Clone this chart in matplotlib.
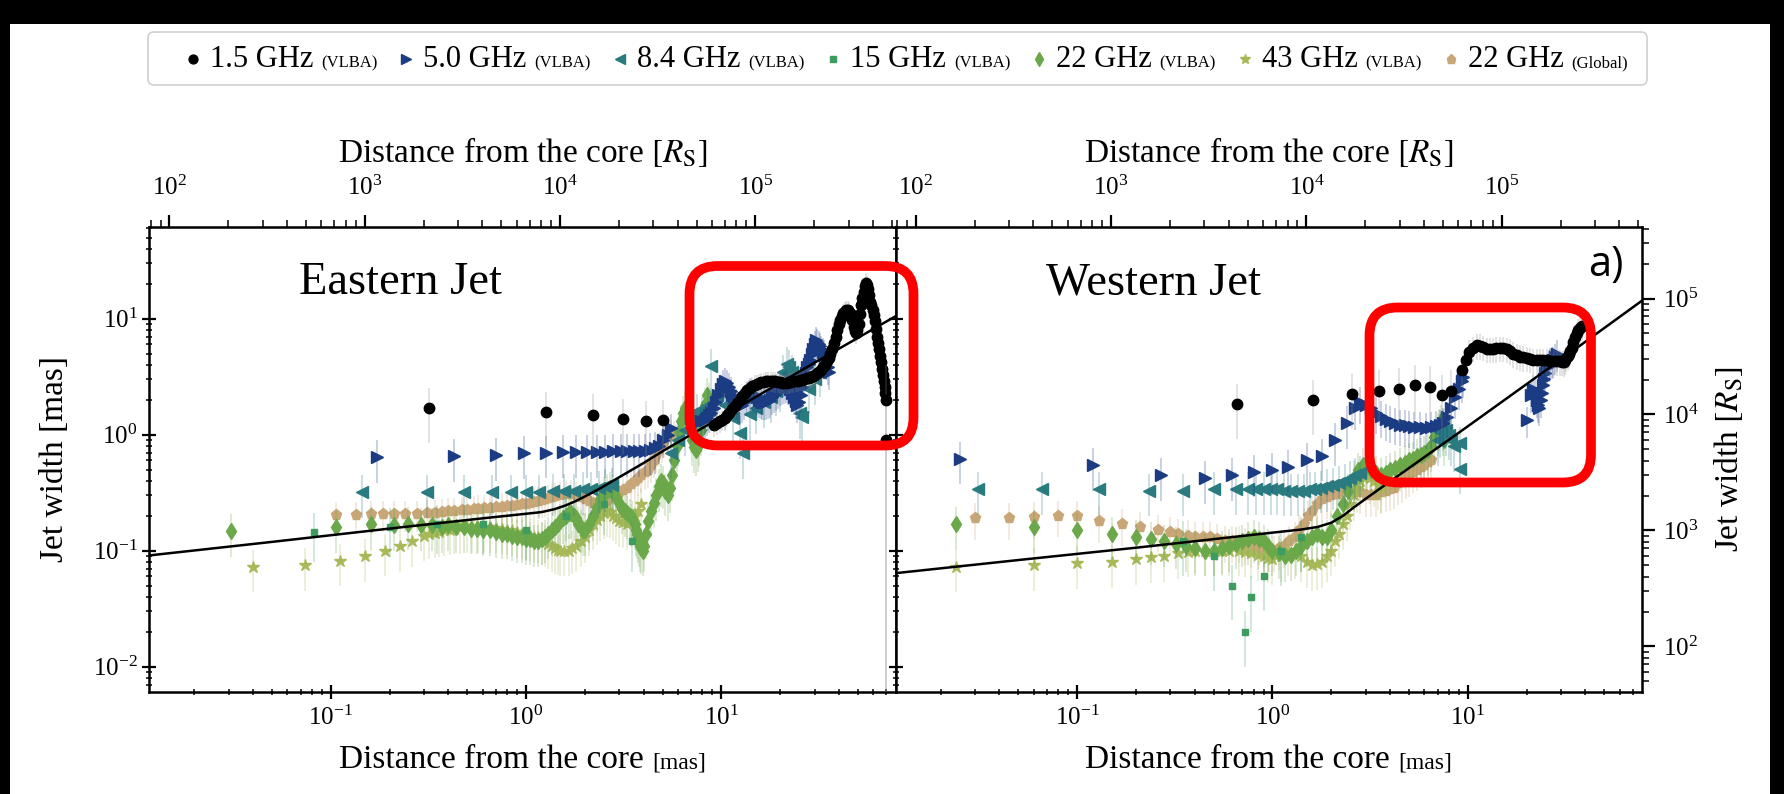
import numpy as np
import matplotlib
matplotlib.use("Agg")
import matplotlib.pyplot as plt
from matplotlib.patches import FancyBboxPatch, Rectangle
from matplotlib.lines import Line2D
from matplotlib.ticker import LogLocator, NullFormatter, FixedLocator
from matplotlib.transforms import IdentityTransform

# ---------------- data ----------------
# each series: list of (distance [mas], width [mas]); relative error per series group
RS_PER_MAS = 6700.0

# ---- Eastern jet ----
E_1p5_sparse = [(0.32, 1.69), (1.26, 1.56), (2.19, 1.48), (3.13, 1.36), (4.1, 1.31), (5.0, 1.33)]
E_1p5_dense = [(9.2, 1.2), (9.5, 1.25), (9.8, 1.3), (10.1, 1.35), (10.4, 1.4), (10.7, 1.47), (11.0, 1.55), (11.35, 1.65),
               (11.7, 1.75), (12.0, 1.87), (12.4, 2.0), (12.8, 2.15), (13.2, 2.3), (13.6, 2.42), (14.0, 2.55), (14.4, 2.63),
               (14.8, 2.7), (15.2, 2.75), (15.6, 2.8), (16.0, 2.83), (16.5, 2.85), (17.0, 2.88), (17.4, 2.9), (17.9, 2.9),
               (18.4, 2.9), (18.9, 2.88), (19.4, 2.85), (19.9, 2.83), (20.5, 2.8), (21.0, 2.8), (21.6, 2.8), (22.2, 2.82),
               (22.8, 2.85), (23.4, 2.88), (24.0, 2.9), (24.6, 2.92), (25.3, 2.95), (25.9, 2.97), (26.6, 3.0), (27.3, 3.05),
               (28.0, 3.1), (28.7, 3.15), (29.5, 3.2), (30.2, 3.3), (31.0, 3.4), (31.7, 3.5), (32.5, 3.6), (33.2, 3.8),
               (34.0, 4.0), (34.7, 4.3), (35.5, 4.6), (36.2, 5.0), (37.0, 5.5), (37.7, 6.2), (38.5, 7.0), (39.2, 8.0),
               (40.0, 9.0), (40.7, 9.8), (41.5, 10.5), (42.2, 11.1), (43.0, 11.5), (43.7, 11.8), (44.5, 11.8), (45.2, 11.5),
               (46.0, 11.0), (46.7, 9.8), (47.5, 8.5), (48.2, 7.8), (49.0, 7.5), (49.7, 8.0), (50.5, 9.0), (51.2, 11.0),
               (52.0, 13.0), (52.7, 15.0), (53.5, 17.0), (54.2, 19.0), (55.0, 20.5), (55.7, 19.5), (56.5, 18.0), (57.2, 16.0),
               (58.0, 14.0), (58.7, 13.0), (59.5, 12.0), (60.2, 10.7), (61.0, 9.5), (61.7, 8.2), (62.5, 7.0), (63.2, 6.2),
               (64.0, 5.5), (64.7, 4.8), (65.5, 4.2), (66.2, 3.7), (67.0, 3.3), (67.7, 2.9), (68.5, 2.6), (69.0, 2.3)]
E_1p5_tail = [(69.5, 2.0), (70.0, 0.9)]

E_5_sparse = [(0.173, 0.64), (0.43, 0.65), (0.70, 0.67), (0.98, 0.69), (1.26, 0.70), (1.54, 0.71), (1.80, 0.71),
              (2.05, 0.71), (2.30, 0.71), (2.55, 0.71), (2.80, 0.72), (3.05, 0.72), (3.30, 0.72), (3.55, 0.72),
              (3.80, 0.72), (4.05, 0.73), (4.30, 0.74), (4.55, 0.76)]
E_5_dense = [(4.8, 0.80), (5.05, 0.9), (5.3, 1.0), (5.55, 1.15), (7.9, 1.30), (8.2, 1.35), (8.4, 1.40), (8.65, 1.47),
             (8.9, 1.55), (9.15, 1.7), (9.4, 1.9), (9.65, 2.2), (9.9, 2.5), (10.15, 2.75), (10.4, 2.9), (10.65, 2.8),
             (10.9, 2.6), (11.15, 2.4), (11.4, 2.2), (11.65, 2.05), (11.9, 1.9), (12.15, 1.8), (12.4, 1.75), (12.7, 1.8),
             (13.0, 1.9), (13.3, 2.05), (13.6, 2.2), (13.9, 2.28), (14.2, 2.3), (14.5, 2.25), (14.8, 2.2), (15.2, 2.1),
             (15.5, 2.0), (15.9, 1.95), (16.2, 1.9), (16.6, 1.9), (17.0, 1.9), (17.4, 1.95), (17.8, 2.0), (18.2, 2.1),
             (18.6, 2.2), (19.0, 2.3), (19.5, 2.4), (20.0, 2.5), (20.5, 2.6), (21.0, 2.65), (21.5, 2.7), (22.0, 2.6),
             (22.5, 2.5), (23.0, 2.3), (23.5, 2.1), (24.0, 1.95), (24.5, 1.8), (25.0, 1.9), (25.5, 2.2), (26.0, 2.6),
             (26.5, 3.0), (27.0, 3.4), (27.5, 3.8), (28.0, 4.1), (28.5, 4.4), (29.0, 5.0), (29.5, 5.5), (30.0, 6.0),
             (30.5, 6.5), (31.0, 6.3), (31.5, 6.0), (32.0, 5.8), (32.5, 5.5), (33.0, 5.2), (33.5, 5.0), (34.0, 4.6),
             (34.5, 4.2), (35.0, 3.8), (35.5, 3.5)]

E_8p4_sparse = [(0.144, 0.32), (0.31, 0.32), (0.48, 0.32), (0.67, 0.32), (0.84, 0.32), (1.0, 0.32), (1.17, 0.32),
                (1.37, 0.33), (1.57, 0.33), (1.76, 0.33), (1.95, 0.34), (2.15, 0.34), (2.35, 0.35), (2.55, 0.36),
                (2.75, 0.37)]
E_8p4_dense = [(5.5, 0.7), (6.0, 0.9), (6.5, 1.1), (7.0, 1.4), (7.5, 1.6), (8.0, 1.5), (8.5, 1.8), (8.9, 3.9), (9.5, 2.2),
               (10.5, 1.8), (11.5, 1.4), (12.4, 1.03), (12.95, 0.69), (14.0, 1.5), (15.0, 1.7), (16.5, 1.9), (18.0, 2.1),
               (19.0, 2.4), (20.0, 2.6), (20.8, 3.5), (21.6, 4.1), (22.3, 3.8), (23.0, 3.5), (24.0, 2.5), (25.2, 1.53),
               (26.0, 1.43), (28.0, 2.5), (30.0, 3.0), (32.0, 3.5)]

E_15 = [(0.082, 0.146), (0.2, 0.16), (0.35, 0.17), (0.6, 0.17), (1.0, 0.15), (1.6, 0.2), (2.5, 0.25), (3.5, 0.12)]

E_22 = [(0.031, 0.148), (0.106, 0.16), (0.16, 0.17), (0.21, 0.165), (0.25, 0.17), (0.29, 0.165), (0.33, 0.165),
        (0.37, 0.16), (0.40, 0.165), (0.44, 0.16), (0.48, 0.16), (0.52, 0.155), (0.56, 0.155), (0.60, 0.15), (0.65, 0.15),
        (0.70, 0.145), (0.75, 0.14), (0.80, 0.14), (0.85, 0.135), (0.90, 0.13), (0.95, 0.13), (1.0, 0.125), (1.05, 0.125),
        (1.1, 0.12), (1.15, 0.12), (1.2, 0.125), (1.25, 0.13), (1.3, 0.14), (1.35, 0.15), (1.4, 0.16), (1.45, 0.17),
        (1.5, 0.18), (1.55, 0.19), (1.6, 0.2), (1.65, 0.21), (1.7, 0.21), (1.75, 0.2), (1.8, 0.19), (1.85, 0.17),
        (1.9, 0.16), (1.95, 0.15), (2.0, 0.15), (2.1, 0.17), (2.2, 0.2), (2.3, 0.24), (2.4, 0.28), (2.5, 0.31),
        (2.6, 0.33), (2.7, 0.34), (2.8, 0.32), (2.9, 0.29), (3.0, 0.26), (3.1, 0.23), (3.2, 0.22), (3.3, 0.21),
        (3.4, 0.2), (3.5, 0.19), (3.6, 0.17), (3.65, 0.15), (3.7, 0.14), (3.75, 0.13), (3.8, 0.12), (3.85, 0.11),
        (3.9, 0.105), (3.95, 0.10), (4.0, 0.11), (4.1, 0.14), (4.2, 0.18), (4.35, 0.22), (4.5, 0.26), (4.65, 0.3),
        (4.8, 0.36), (4.9, 0.4), (5.0, 0.38), (5.15, 0.33), (5.3, 0.3), (5.45, 0.35), (5.6, 0.45), (5.75, 0.6),
        (5.9, 0.8), (6.05, 1.05), (6.2, 1.3), (6.35, 1.55), (6.5, 1.7), (6.65, 1.6), (6.8, 1.4), (6.95, 1.15),
        (7.1, 0.9), (7.25, 0.78), (7.4, 0.74), (7.55, 0.8), (7.7, 0.9), (7.85, 1.1), (8.0, 1.4), (8.2, 1.8),
        (8.4, 2.2), (8.6, 2.0), (8.8, 1.8)]

E_43 = [(0.040, 0.073), (0.074, 0.075), (0.111, 0.082), (0.149, 0.09), (0.189, 0.10), (0.226, 0.11), (0.26, 0.12),
        (0.30, 0.135), (0.32, 0.14), (0.34, 0.143), (0.36, 0.146), (0.38, 0.15), (0.41, 0.152), (0.43, 0.155),
        (0.46, 0.157), (0.5, 0.16), (0.53, 0.16), (0.57, 0.16), (0.61, 0.16), (0.65, 0.16), (0.7, 0.158), (0.75, 0.155),
        (0.8, 0.152), (0.85, 0.15), (0.9, 0.145), (0.95, 0.14), (1.0, 0.137), (1.05, 0.135), (1.1, 0.132), (1.15, 0.13),
        (1.2, 0.125), (1.25, 0.12), (1.3, 0.115), (1.35, 0.11), (1.4, 0.105), (1.45, 0.102), (1.5, 0.1), (1.57, 0.1),
        (1.65, 0.1), (1.72, 0.105), (1.8, 0.11), (1.9, 0.12), (2.0, 0.13), (2.1, 0.15), (2.2, 0.17), (2.3, 0.185),
        (2.4, 0.2), (2.5, 0.21), (2.6, 0.22), (2.7, 0.215), (2.8, 0.2), (2.9, 0.19), (3.0, 0.18), (3.15, 0.175),
        (3.3, 0.17), (3.45, 0.18), (3.6, 0.2), (3.75, 0.22), (3.9, 0.25)]

E_G22 = [(0.106, 0.203), (0.135, 0.204), (0.16, 0.205), (0.185, 0.205), (0.21, 0.205), (0.24, 0.206), (0.277, 0.207),
         (0.31, 0.21), (0.34, 0.212), (0.37, 0.215), (0.40, 0.218), (0.43, 0.22), (0.47, 0.222), (0.5, 0.225),
         (0.54, 0.228), (0.57, 0.23), (0.61, 0.233), (0.65, 0.235), (0.7, 0.238), (0.75, 0.24), (0.8, 0.243),
         (0.85, 0.245), (0.9, 0.248), (0.95, 0.25), (1.0, 0.255), (1.05, 0.26), (1.1, 0.265), (1.15, 0.27), (1.2, 0.275),
         (1.25, 0.28), (1.3, 0.285), (1.35, 0.29), (1.4, 0.295), (1.5, 0.3), (1.6, 0.305), (1.7, 0.31), (1.8, 0.3),
         (1.9, 0.29), (2.0, 0.28), (2.1, 0.27), (2.2, 0.26), (2.3, 0.255), (2.4, 0.25), (2.5, 0.26), (2.6, 0.27),
         (2.7, 0.285), (2.8, 0.3), (2.9, 0.31), (3.0, 0.32), (3.15, 0.335), (3.3, 0.35), (3.45, 0.375), (3.6, 0.4),
         (3.75, 0.425), (3.9, 0.45), (4.05, 0.475), (4.2, 0.5), (4.35, 0.55), (4.5, 0.6), (4.65, 0.67), (4.8, 0.75),
         (4.95, 0.82), (5.1, 0.9), (5.25, 0.95), (5.4, 1.0), (5.55, 1.02), (5.7, 1.0), (5.85, 0.95), (6.0, 0.9)]

# ---- Western jet ----
W_1p5_sparse = [(0.66, 1.84), (1.61, 1.99), (2.55, 2.24), (3.5, 2.39), (4.45, 2.5), (5.4, 2.68), (6.4, 2.6), (7.4, 2.2),
                (8.2, 2.4)]
W_1p5_dense = [(9.3, 3.6), (9.8, 4.4), (10.2, 5.2), (10.6, 5.6), (11.1, 5.9), (11.5, 5.85), (12.0, 5.7), (12.5, 5.5),
               (13.0, 5.5), (13.5, 5.5), (14.0, 5.55), (14.6, 5.6), (15.2, 5.6), (15.8, 5.5), (16.4, 5.3), (17.1, 5.0),
               (17.8, 4.85), (18.5, 4.7), (19.2, 4.65), (20.0, 4.6), (20.8, 4.5), (21.7, 4.4), (22.6, 4.4), (23.5, 4.4),
               (24.4, 4.4), (25.4, 4.4), (26.4, 4.35), (27.5, 4.3), (28.6, 4.3), (29.7, 4.3), (30.5, 4.25), (31.0, 4.2),
               (31.5, 4.4), (32.0, 4.6), (32.5, 4.8), (33.0, 5.0), (33.5, 5.3), (34.0, 5.6), (34.7, 6.3), (35.4, 7.0),
               (36.2, 7.5), (36.9, 8.0), (37.6, 8.3), (38.4, 8.6)]

W_5_sparse = [(0.025, 0.62), (0.12, 0.55), (0.27, 0.45), (0.45, 0.42), (0.62, 0.45), (0.8, 0.48), (1.0, 0.5), (1.2, 0.53),
              (1.5, 0.6), (1.79, 0.66), (2.09, 0.9), (2.4, 1.25)]
W_5_dense = [(2.65, 1.69), (2.8, 1.9), (3.0, 1.8), (3.2, 1.7), (3.4, 1.55), (3.6, 1.45), (3.8, 1.37), (4.0, 1.3),
             (4.25, 1.25), (4.5, 1.22), (4.75, 1.2), (5.0, 1.18), (5.3, 1.16), (5.7, 1.16), (6.1, 1.15), (6.5, 1.16),
             (6.9, 1.18), (7.2, 1.2), (7.5, 1.25), (7.8, 1.43), (8.2, 1.7), (8.6, 2.1), (9.0, 2.5), (9.3, 2.9),
             (9.5, 3.16)]
W_5_far = [(20.0, 1.34), (21.0, 2.2), (21.7, 2.5), (22.1, 2.3), (22.5, 2.0), (22.9, 1.8), (23.2, 1.7), (23.6, 2.0),
           (24.0, 2.3), (24.4, 2.7), (24.7, 3.0), (25.0, 3.4), (25.4, 3.8), (26.0, 4.1), (26.5, 4.3), (27.0, 4.35),
           (27.4, 4.4), (28.0, 4.7), (28.5, 5.0)]

W_8p4 = [(0.031, 0.34), (0.066, 0.34), (0.13, 0.34), (0.233, 0.33), (0.35, 0.33), (0.5, 0.34), (0.65, 0.34), (0.75, 0.34),
         (0.82, 0.34), (0.9, 0.34), (0.98, 0.34), (1.06, 0.34), (1.15, 0.33), (1.25, 0.33), (1.35, 0.33), (1.45, 0.33),
         (1.55, 0.34), (1.65, 0.34), (1.78, 0.35), (1.9, 0.36), (2.05, 0.37), (2.2, 0.385), (2.35, 0.4), (2.5, 0.42),
         (2.65, 0.45), (2.8, 0.47), (7.0, 0.9), (7.25, 1.05), (7.5, 1.2), (7.75, 1.1), (8.0, 1.0), (8.25, 0.9),
         (8.5, 0.8), (9.1, 0.84), (9.1, 0.51)]

W_15 = [(0.35, 0.12), (0.5, 0.09), (0.62, 0.05), (0.72, 0.02), (0.78, 0.04), (0.9, 0.06), (1.1, 0.1), (1.4, 0.13)]

W_22 = [(0.024, 0.17), (0.06, 0.16), (0.1, 0.15), (0.15, 0.14), (0.2, 0.13), (0.24, 0.125), (0.28, 0.12), (0.32, 0.115),
        (0.36, 0.11), (0.4, 0.105), (0.45, 0.1), (0.5, 0.1), (0.55, 0.105), (0.6, 0.11), (0.65, 0.115), (0.7, 0.12),
        (0.75, 0.125), (0.8, 0.13), (0.85, 0.125), (0.9, 0.12), (0.95, 0.11), (1.0, 0.1), (1.08, 0.095), (1.16, 0.09),
        (1.24, 0.092), (1.32, 0.1), (1.4, 0.11), (1.5, 0.12), (1.6, 0.13), (1.7, 0.14), (1.8, 0.13), (1.9, 0.13),
        (2.0, 0.15), (2.15, 0.2), (2.3, 0.25), (2.45, 0.33), (2.6, 0.42), (2.75, 0.5), (2.9, 0.55), (3.05, 0.55),
        (3.2, 0.5), (3.4, 0.47), (3.6, 0.45), (3.8, 0.47), (4.0, 0.5), (4.25, 0.52), (4.5, 0.55), (4.75, 0.57),
        (5.0, 0.6), (5.25, 0.62), (5.5, 0.65), (5.75, 0.67), (6.0, 0.7), (6.25, 0.74), (6.5, 0.8), (6.75, 0.95),
        (7.0, 1.1), (7.15, 1.2), (7.3, 1.3), (7.45, 1.1), (7.6, 0.9)]

W_43 = [(0.024, 0.073), (0.06, 0.075), (0.1, 0.078), (0.15, 0.08), (0.2, 0.085), (0.24, 0.088), (0.28, 0.09),
        (0.33, 0.095), (0.37, 0.098), (0.4, 0.1), (0.45, 0.1), (0.5, 0.1), (0.55, 0.1), (0.6, 0.1), (0.67, 0.1),
        (0.72, 0.098), (0.78, 0.095), (0.84, 0.092), (0.9, 0.09), (0.95, 0.087), (1.0, 0.085), (1.1, 0.09), (1.2, 0.1),
        (1.3, 0.095), (1.4, 0.09), (1.5, 0.08), (1.6, 0.075), (1.7, 0.077), (1.8, 0.08), (1.9, 0.09), (2.0, 0.1),
        (2.1, 0.12), (2.2, 0.14), (2.3, 0.17), (2.4, 0.2), (2.5, 0.25), (2.6, 0.3), (2.7, 0.35), (2.8, 0.4),
        (2.9, 0.43), (3.0, 0.45), (3.15, 0.42), (3.3, 0.4), (3.45, 0.37), (3.6, 0.35)]

W_G22 = [(0.03, 0.19), (0.045, 0.19), (0.06, 0.195), (0.08, 0.2), (0.1, 0.2), (0.13, 0.18), (0.17, 0.17), (0.21, 0.16),
         (0.26, 0.15), (0.3, 0.145), (0.33, 0.14), (0.37, 0.135), (0.4, 0.13), (0.44, 0.13), (0.48, 0.13), (0.52, 0.125),
         (0.57, 0.12), (0.62, 0.12), (0.67, 0.12), (0.72, 0.115), (0.78, 0.11), (0.84, 0.105), (0.9, 0.1), (0.96, 0.1),
         (1.02, 0.1), (1.08, 0.105), (1.15, 0.11), (1.22, 0.12), (1.3, 0.13), (1.37, 0.15), (1.45, 0.17), (1.52, 0.2),
         (1.6, 0.22), (1.7, 0.25), (1.8, 0.28), (1.9, 0.29), (2.0, 0.3), (2.15, 0.31), (2.3, 0.32), (2.45, 0.33),
         (2.6, 0.33), (2.8, 0.32), (3.0, 0.3), (3.2, 0.3), (3.4, 0.3), (3.6, 0.32), (3.8, 0.33), (4.0, 0.34),
         (4.2, 0.35), (4.4, 0.38), (4.6, 0.4), (4.8, 0.43), (5.0, 0.45), (5.25, 0.48), (5.5, 0.5), (5.75, 0.53),
         (6.0, 0.55), (6.25, 0.58), (6.5, 0.6)]

# fitted broken power-law lines
E_fit = [(0.0118, 0.091), (0.05, 0.119), (0.2, 0.155), (0.6, 0.19), (1.0, 0.208), (1.2, 0.215), (1.4, 0.228),
         (1.6, 0.246), (1.8, 0.268), (2.0, 0.293), (2.4, 0.345), (3.0, 0.43), (4.0, 0.57), (5.0, 0.72), (10.0, 1.42),
         (30.0, 4.17), (78.0, 10.5)]
W_fit = [(0.0118, 0.064), (0.05, 0.083), (0.2, 0.106), (0.6, 0.130), (1.0, 0.143), (1.4, 0.152), (1.7, 0.160),
         (2.0, 0.174), (2.3, 0.200), (2.6, 0.235), (3.0, 0.28), (3.7, 0.36), (5.0, 0.515), (10.0, 1.18), (30.0, 4.45),
         (78.0, 14.3)]

# tick values
X_MAJOR = [0.1, 1.0, 10.0]
Y_MAJOR = [0.01, 0.1, 1.0, 10.0]
RS_MAJOR = [1e2, 1e3, 1e4, 1e5]

LEGEND_MAIN = ["1.5 GHz", "5.0 GHz", "8.4 GHz", "15 GHz", "22 GHz", "43 GHz", "22 GHz"]
LEGEND_SUB = ["(VLBA)", "(VLBA)", "(VLBA)", "(VLBA)", "(VLBA)", "(VLBA)", "(Global)"]

# (series index, points, relative error)
EAST = [(6, E_G22, 0.3), (5, E_43, 0.4), (4, E_22, 0.4), (3, E_15, 0.45), (2, E_8p4_sparse, 0.4), (2, E_8p4_dense, 0.4),
        (1, E_5_sparse, 0.4), (1, E_5_dense, 0.3), (0, E_1p5_sparse, 0.5), (0, E_1p5_dense, 0.2), (0, E_1p5_tail, 1.0)]
WEST = [(6, W_G22, 0.35), (5, W_43, 0.4), (4, W_22, 0.4), (3, W_15, 0.5), (2, W_8p4, 0.4), (1, W_5_sparse, 0.4),
        (1, W_5_dense, 0.35), (1, W_5_far, 0.3), (0, W_1p5_sparse, 0.5), (0, W_1p5_dense, 0.25)]

# ---------------- styles ----------------
plt.rcParams['font.family'] = ['Liberation Serif', 'DejaVu Serif']
plt.rcParams['mathtext.fontset'] = 'stix'

COL = ['#000000', '#1b3c83', '#2a7b80', '#3d9c5f', '#6aa84a', '#a9b95a', '#c9a677']
MRK = ['o', '>', '<', 's', 'd', '*', 'p']
MS = [7.5, 8, 8, 5, 8, 9, 8]

W_PX, H_PX = 1784, 794
fig = plt.figure(figsize=(W_PX / 100, H_PX / 100), dpi=100)
fig.patch.set_facecolor('white')

def fx(px):
    return px / W_PX

def fy(py):
    return 1 - py / H_PX

ax_b, ax_h, ax_w = fy(691.7), 465 / H_PX, 746.5 / W_PX
ax1 = fig.add_axes([fx(149.3), ax_b, ax_w, ax_h])
ax2 = fig.add_axes([fx(895.7), ax_b, ax_w, ax_h])

XLIM = (0.01177, 78.2)
YLIM = (0.00608, 62.1)
TICK_FS = 18

def to_rs(v):
    return v * RS_PER_MAS

def from_rs(v):
    return v / RS_PER_MAS

for ax, groups, fit in ((ax1, EAST, E_fit), (ax2, WEST, W_fit)):
    ax.set_xscale('log')
    ax.set_yscale('log')
    for k, (i, pts, rel) in enumerate(groups):
        x = np.array([p[0] for p in pts]); y = np.array([p[1] for p in pts])
        ecol = '#8a8a8a' if i == 0 else COL[i]
        ax.errorbar(x, y, yerr=rel * y, fmt='none', ecolor=ecol, alpha=0.3, elinewidth=1.1, zorder=2 + k)
        ax.plot(x, y, ls='none', marker=MRK[i], color=COL[i], mec=COL[i], ms=MS[i], zorder=2.5 + k)
    ax.plot([p[0] for p in fit], [p[1] for p in fit], color='black', lw=1.8, zorder=20)
    ax.set_xlim(*XLIM)
    ax.set_ylim(*YLIM)
    for s in ax.spines.values():
        s.set_linewidth(1.8)
    ax.xaxis.set_major_locator(FixedLocator(X_MAJOR))
    ax.xaxis.set_minor_locator(LogLocator(base=10, subs=np.arange(2, 10), numticks=30))
    ax.yaxis.set_major_locator(FixedLocator(Y_MAJOR))
    ax.yaxis.set_minor_locator(LogLocator(base=10, subs=np.arange(2, 10), numticks=30))
    ax.xaxis.set_minor_formatter(NullFormatter())
    ax.yaxis.set_minor_formatter(NullFormatter())
    ax.tick_params(which='major', direction='inout', length=10, width=1.6, labelsize=TICK_FS, top=False, right=False)
    ax.tick_params(which='minor', direction='inout', length=5, width=1.1, top=False, right=False)
    ax.tick_params(axis='x', which='major', pad=5)
    sec = ax.secondary_xaxis('top', functions=(to_rs, from_rs))
    sec.xaxis.set_major_locator(FixedLocator(RS_MAJOR))
    sec.xaxis.set_minor_locator(LogLocator(base=10, subs=np.arange(2, 10), numticks=30))
    sec.xaxis.set_minor_formatter(NullFormatter())
    sec.tick_params(which='major', direction='out', length=9, width=1.6, labelsize=TICK_FS, pad=10)
    sec.tick_params(which='minor', direction='out', length=5, width=1.1)
    sec.set_xlabel(r'Distance from the core $[R_{\rm S}]$', fontsize=24, labelpad=10)

ax1.set_ylabel('Jet width [mas]', fontsize=24, labelpad=16)
ax2.tick_params(labelleft=False)

secy = ax2.secondary_yaxis('right', functions=(to_rs, from_rs))
secy.yaxis.set_major_locator(FixedLocator(RS_MAJOR))
secy.yaxis.set_minor_locator(LogLocator(base=10, subs=np.arange(2, 10), numticks=30))
secy.yaxis.set_minor_formatter(NullFormatter())
secy.tick_params(which='major', direction='out', length=9, width=1.6, labelsize=TICK_FS, pad=6)
secy.tick_params(which='minor', direction='out', length=5, width=1.1)
secy.set_ylabel(r'Jet width $[R_{\rm S}]$', fontsize=24, labelpad=10)

ax1.text(0.337, 0.879, 'Eastern Jet', transform=ax1.transAxes, fontsize=33.5, ha='center', va='center')
ax2.text(0.346, 0.879, 'Western Jet', transform=ax2.transAxes, fontsize=33.5, ha='center', va='center')
ax2.text(0.951, 0.918, 'a)', transform=ax2.transAxes, fontsize=30, ha='center', va='center',
         family=['Open Sans', 'DejaVu Sans'])

renderer = fig.canvas.get_renderer()

def text_width(s, size, **kw):
    t = fig.text(0, 0, s, fontsize=size, **kw)
    w = t.get_window_extent(renderer).width
    t.remove()
    return w

# bottom x labels with smaller unit
for ax in (ax1, ax2):
    bb = ax.get_position()
    cx = (bb.x0 + bb.x1) / 2 * W_PX
    w1 = text_width('Distance from the core ', 24)
    w2 = text_width('[mas]', 17)
    x0 = cx - (w1 + w2) / 2
    fig.text(fx(x0), fy(768), 'Distance from the core ', fontsize=24, va='baseline', ha='left')
    fig.text(fx(x0 + w1), fy(768), '[mas]', fontsize=17, va='baseline', ha='left')

# legend box
leg = FancyBboxPatch((148, H_PX - 85), 1647 - 148, 85 - 32, boxstyle='round,pad=0,rounding_size=6',
                     transform=IdentityTransform(), facecolor='white', edgecolor='#d0d0d0', lw=1.2, zorder=5)
fig.add_artist(leg)
big, small = 22, 12
widths = []
for m, s in zip(LEGEND_MAIN, LEGEND_SUB):
    widths.append(text_width(m + ' ', big) + text_width(s, small))
marker_gap = 12
total = sum(widths) + len(widths) * (marker_gap + 10)
space = (1628 - 188 - total) / (len(widths) - 1)
xcur = 188
ybase = 67
for i, (m, s) in enumerate(zip(LEGEND_MAIN, LEGEND_SUB)):
    fig.add_artist(Line2D([fx(xcur + 5)], [fy(ybase - 8)], marker=MRK[i], color=COL[i], ms=MS[i] * 0.85,
                          ls='none', transform=fig.transFigure, zorder=6))
    xt = xcur + 10 + marker_gap
    fig.text(fx(xt), fy(ybase), m + ' ', fontsize=big, va='baseline', zorder=6)
    wm = text_width(m + ' ', big)
    fig.text(fx(xt + wm), fy(ybase), s, fontsize=small, va='baseline', zorder=6)
    xcur = xt + widths[i] + space

# red highlight boxes
for (x0, y0, x1, y1) in ((689.5, 266, 913.5, 445.5), (1369.5, 307.5, 1591, 482.5)):
    fig.add_artist(FancyBboxPatch((x0, H_PX - y1), x1 - x0, y1 - y0, boxstyle='round,pad=0,rounding_size=28',
                                  transform=IdentityTransform(), facecolor='none', edgecolor='#ff0000', lw=7,
                                  zorder=30))

# black screen margins
for (x0, y0, w, h) in ((0, 0, 10, H_PX), (0, H_PX - 24, W_PX, 24), (W_PX - 14, 0, 14, H_PX)):
    fig.add_artist(Rectangle((x0, y0), w, h, transform=IdentityTransform(), facecolor='black', edgecolor='none',
                             zorder=40))

fig.savefig('out.png', dpi=100)
